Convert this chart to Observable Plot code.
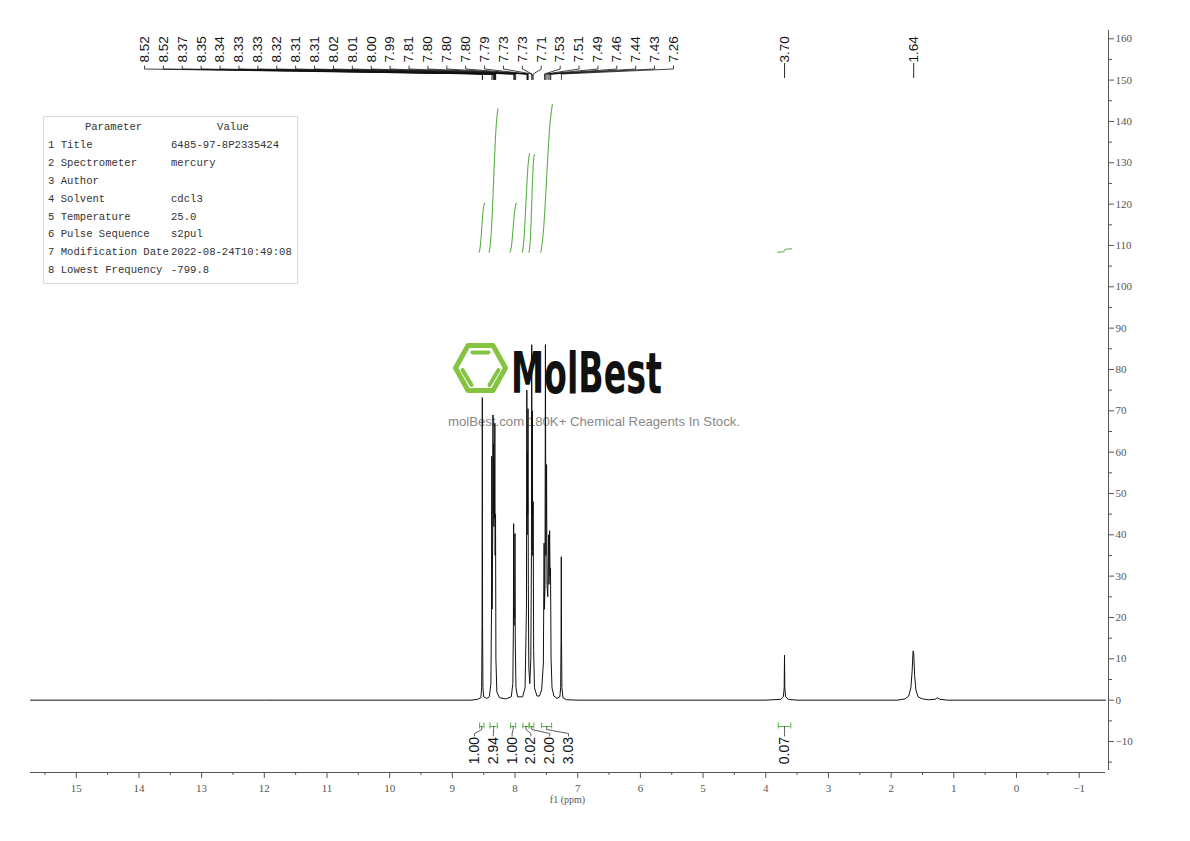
<!DOCTYPE html>
<html><head><meta charset="utf-8">
<script src="https://cdn.jsdelivr.net/npm/d3@7"></script>
<script src="https://cdn.jsdelivr.net/npm/@observablehq/plot@0.6"></script>
<style>
html,body{margin:0;padding:0;background:#fff;}
#wrap{position:relative;width:1190px;height:841px;overflow:hidden;background:#fff;}
#wm,#chart{position:absolute;left:0;top:0;}
#params{position:absolute;left:43px;top:116px;width:253px;height:166px;border:1px solid #dcdcdc;font-family:"Liberation Mono",monospace;font-size:10.6px;color:#333;}
.row{position:absolute;left:0;width:100%;height:18px;line-height:18px;white-space:nowrap;}
.c1{position:absolute;left:4px;}
.c2{position:absolute;left:127px;}
.h1{position:absolute;left:4px;width:131px;text-align:center;}
.h2{position:absolute;left:127px;width:124px;text-align:center;}
</style></head>
<body><div id="wrap"><div id="wm"></div><div id="chart"></div><div id="params"></div></div>
<script>
// ---------- data ----------
const xTickValues = [15,14,13,12,11,10,9,8,7,6,5,4,3,2,1,0,-1];
const xMinorTicks = [15.5,14.5,13.5,12.5,11.5,10.5,9.5,8.5,7.5,6.5,5.5,4.5,3.5,2.5,1.5,0.5,-0.5];
const yTickValues = [-10,0,10,20,30,40,50,60,70,80,90,100,110,120,130,140,150,160];
const yMinorTicks = [-15,-5,5,15,25,35,45,55,65,75,85,95,105,115,125,135,145,155];

// peak picking labels (ppm)
const peakLabels = [8.52,8.52,8.37,8.35,8.34,8.33,8.33,8.32,8.31,8.31,8.02,8.01,8.00,7.99,
  7.81,7.80,7.80,7.80,7.79,7.73,7.73,7.71,7.53,7.51,7.49,7.46,7.44,7.43,7.26];
const isolatedLabels = [3.70,1.64];

// integrals: ranges (ppm) and values
const integralFrom   = [8.565,8.400,8.070,7.874,7.767,7.576,3.80];
const integralTo     = [8.496,8.283,7.990,7.778,7.700,7.416,3.60];
const integralValues = [1.00,2.94,1.00,2.02,2.00,3.03,0.07];
const integralGroup  = [0,0,0,0,0,0,1];

// spectrum trace [ppm, intensity]
const spectrum = [
 [15.73,0],[12.0,0],[8.70,0],
 [8.60,0.2],[8.545,0.6],[8.532,3],[8.526,18],[8.522,73.2],[8.518,18],[8.512,3],[8.50,0.8],[8.45,0.4],
 [8.41,0.8],[8.385,4],[8.375,22],[8.371,59],[8.366,22],[8.356,40],[8.352,69],[8.347,45],[8.342,62],[8.338,42],
 [8.333,57],[8.329,44],[8.322,67],[8.317,35],[8.311,45],[8.305,10],[8.29,2],[8.25,0.6],[8.15,0.3],
 [8.06,0.8],[8.035,4],[8.026,18],[8.022,42.7],[8.017,18],[8.012,22],[8.006,20],[8.001,40.3],[7.996,14],[7.985,3],[7.96,0.8],
 [7.88,0.8],[7.84,3],[7.818,22],[7.812,75],[7.807,40],[7.802,60],[7.798,45],[7.793,70.5],[7.788,28],[7.780,8],
 [7.765,4],[7.748,10],[7.738,36],[7.734,86],[7.729,45],[7.724,70],[7.718,35],[7.711,48],[7.703,12],[7.69,3],[7.65,1],[7.61,1],
 [7.575,2.5],[7.548,9],[7.536,38],[7.530,22],[7.522,28],[7.515,86],[7.508,35],[7.497,57],[7.490,28],[7.478,25],[7.465,40],
 [7.458,28],[7.448,41],[7.441,30],[7.434,32],[7.425,10],[7.41,3],[7.38,1],[7.33,0.4],
 [7.285,0.8],[7.272,3],[7.266,14],[7.262,34.7],[7.258,14],[7.252,3],[7.235,0.6],[7.18,0.1],[7.0,0],
 [4.0,0],[3.76,0.2],[3.72,0.8],[3.706,3],[3.701,10.9],[3.696,3],[3.684,0.8],[3.64,0.2],[3.5,0],
 [1.9,0],[1.78,0.3],[1.72,1],[1.685,3],[1.665,7],[1.650,11.9],[1.640,11.5],[1.625,6],[1.605,2.5],[1.57,0.8],
 [1.50,0.3],[1.40,0.1],[1.30,0.2],[1.26,0.6],[1.22,0.2],[1.10,0],[-1.42,0]
];

const paramNames  = ["Title","Spectrometer","Author","Solvent","Temperature","Pulse Sequence","Modification Date","Lowest Frequency"];
const paramValues = ["6485-97-8P2335424","mercury","","cdcl3","25.0","s2pul","2022-08-24T10:49:08","-799.8"];

// ---------- layout ----------
const W = 1190, H = 841;
const X0 = 15.73, X1 = -1.42, Y0 = -17.5, Y1 = 162;
const fL = 30, fR = 1105, fT = 30, fB = 772;
const px2x = p => X0 + (p - fL) / (fR - fL) * (X1 - X0);
const px2y = p => Y1 + (p - fT) / (fB - fT) * (Y0 - Y1);
const integralScale = 11.8, integralBase = px2y(251.7);

const labelFont = "Liberation Sans, Arial, sans-serif";
const green = "#5cb04a";

// top labels evenly spread
const nL = peakLabels.length;
const labelX = peakLabels.map((d, i) => px2x(144 + i * (673 - 144) / (nL - 1)));
const topConn = peakLabels.flatMap((d, i) => [
  {i, x: labelX[i], y: px2y(65.5)}, {i, x: labelX[i], y: px2y(68.5)},
  {i, x: d, y: px2y(73.5)}, {i, x: d, y: px2y(79)}]);

// integral labels
const g0 = integralGroup.map((g, i) => i).filter(i => integralGroup[i] === 0);
const intLabelX = integralValues.map((v, i) => {
  if (integralGroup[i] === 0) { const k = g0.indexOf(i); return px2x(474 + k * (568 - 474) / (g0.length - 1)); }
  return (integralFrom[i] + integralTo[i]) / 2;
});
const intIdx = integralValues.map((v, i) => i);
const botConn = intIdx.flatMap(i => {
  const c = (integralFrom[i] + integralTo[i]) / 2;
  return [{i, x: c, y: px2y(726)}, {i, x: c, y: px2y(729)}, {i, x: intLabelX[i], y: px2y(733)}, {i, x: intLabelX[i], y: px2y(735.5)}];
});
// integral curves (S-shape through range)
const intCurves = intIdx.flatMap(i => {
  const f = integralFrom[i], t = integralTo[i], B = integralBase, T = B + integralValues[i] * integralScale, w = f - t;
  const s = integralGroup[i] === 1 ? 0.4 : 0.15;
  return [
    {i, x: f + 0.012, y: B}, {i, x: f, y: B + 0.1 * (T - B) / 3}, {i, x: f - w * s, y: B + (T - B) * 0.12},
    {i, x: t + w * s, y: B + (T - B) * 0.88}, {i, x: t, y: T - 0.1 * (T - B) / 3}, {i, x: t - 0.012, y: T}];
});

const chart = Plot.plot({
  width: W, height: H,
  marginTop: fT, marginBottom: H - fB, marginLeft: fL, marginRight: 82,
  style: {background: "transparent", fontFamily: "Liberation Serif, serif", fontSize: "11px", color: "#555", overflow: "visible"},
  x: {domain: [X0, X1], range: [fL, fR], axis: null},
  y: {domain: [Y0, Y1], axis: null},
  marks: [
    Plot.ruleY([Y0], {x1: X0, x2: X1, stroke: "#555"}),
    Plot.ruleX([px2x(1108)], {y1: px2y(770), y2: Y1, stroke: "#555"}),
    Plot.axisX({ticks: xTickValues, anchor: "bottom", tickSize: 6, tickPadding: 6, label: null, tickFormat: d3.format("d")}),
    Plot.axisX({ticks: xMinorTicks, anchor: "bottom", tickSize: 3, label: null, tickFormat: () => ""}),
    Plot.axisY({ticks: yTickValues, anchor: "right", tickSize: 5, tickPadding: 2, label: null}),
    Plot.axisY({ticks: yMinorTicks, anchor: "right", tickSize: 3, label: null, tickFormat: () => ""}),
    Plot.text(["f1 (ppm)"], {frameAnchor: "bottom", dx: -2, dy: 30, text: d => d, fontSize: 10, fill: "#555"}),
    // spectrum
    Plot.line(spectrum, {x: d => d[0], y: d => d[1], stroke: "#111", strokeWidth: 1}),
    // integral curves
    Plot.line(intCurves, {x: "x", y: "y", z: "i", stroke: green, strokeWidth: 1.1, curve: "monotone-x"}),
    // integral brackets
    Plot.ruleY(intIdx, {y: px2y(726), x1: i => integralFrom[i], x2: i => integralTo[i], stroke: green, strokeWidth: 1}),
    Plot.ruleX(intIdx, {x: i => integralFrom[i], y1: px2y(722.5), y2: px2y(728.5), stroke: green, strokeWidth: 1}),
    Plot.ruleX(intIdx, {x: i => integralTo[i], y1: px2y(722.5), y2: px2y(728.5), stroke: green, strokeWidth: 1}),
    Plot.line(botConn, {x: "x", y: "y", z: "i", stroke: "#333", strokeWidth: 0.8}),
    Plot.text(intIdx, {x: i => intLabelX[i], y: px2y(736.5), text: i => integralValues[i].toFixed(2), rotate: -90, textAnchor: "end",
      fontFamily: labelFont, fontSize: 14, fill: "#111"}),
    // peak labels
    Plot.line(topConn, {x: "x", y: "y", z: "i", stroke: "#111", strokeWidth: 0.8}),
    Plot.text(peakLabels, {x: (d, i) => labelX[i], y: px2y(62), text: d => d.toFixed(2), rotate: -90, textAnchor: "start",
      fontFamily: labelFont, fontSize: 13.5, fill: "#111"}),
    Plot.ruleX(isolatedLabels, {x: d => d, y1: px2y(63), y2: px2y(78), stroke: "#111", strokeWidth: 0.9}),
    Plot.text(isolatedLabels, {x: d => d, y: px2y(62), text: d => d.toFixed(2), rotate: -90, textAnchor: "start",
      fontFamily: labelFont, fontSize: 13.5, fill: "#111"})
  ]
});
document.getElementById("chart").appendChild(chart);

// watermark (beneath chart)
document.getElementById("wm").innerHTML = `
<svg width="${W}" height="${H}" xmlns="http://www.w3.org/2000/svg">
 <g stroke="#84c441" fill="none" stroke-linecap="round" stroke-linejoin="round">
  <polygon points="455.5,368 468,345.5 493,345.5 505.5,368 493,390.5 468,390.5" stroke-width="5"/>
  <line x1="472.5" y1="352.5" x2="488.5" y2="352.5" stroke-width="4"/>
  <line x1="462.5" y1="370" x2="471.5" y2="385" stroke-width="4"/>
  <line x1="498.5" y1="370" x2="489.5" y2="385" stroke-width="4"/>
 </g>
 <text x="511" y="393" font-family="DejaVu Sans Condensed, DejaVu Sans" font-stretch="condensed" font-weight="bold" font-size="57" fill="#111"
   textLength="151" lengthAdjust="spacingAndGlyphs">MolBest</text>
 <text x="448" y="426" font-family="Liberation Sans, Arial" font-size="13" fill="#888"
   textLength="292" lengthAdjust="spacingAndGlyphs">molBest.com 180K+ Chemical Reagents In Stock.</text>
</svg>`;

// parameter table
const pt = document.getElementById("params");
let html = `<div class="row" style="top:1px"><span class="h1">Parameter</span><span class="h2">Value</span></div>`;
paramNames.forEach((n, k) => {
  html += `<div class="row" style="top:${1 + (k + 1) * 17.9}px"><span class="c1">${k + 1} ${n}</span><span class="c2">${paramValues[k]}</span></div>`;
});
pt.innerHTML = html;
</script>
</body></html>
